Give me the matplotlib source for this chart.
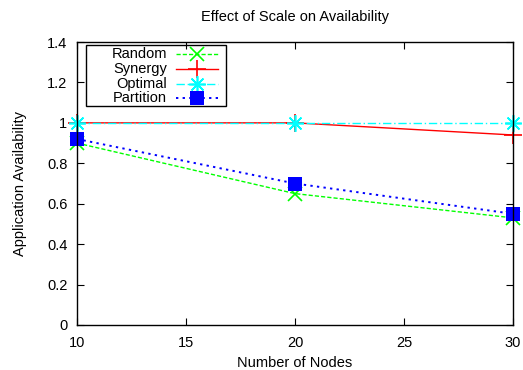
import matplotlib
matplotlib.use("Agg")
import matplotlib.pyplot as plt
from matplotlib.patches import Rectangle

plt.rcParams['font.family'] = ['Liberation Sans', 'DejaVu Sans']

nodes = [10, 20, 30]
random_av = [0.90, 0.65, 0.53]
synergy_av = [1.00, 1.00, 0.94]
optimal_av = [1.00, 1.00, 1.00]
partition_av = [0.92, 0.70, 0.55]

yticks = [0, 0.2, 0.4, 0.6, 0.8, 1.0, 1.2, 1.4]
ytick_labels = ['0', '0.2', '0.4', '0.6', '0.8', '1', '1.2', '1.4']
xticks = [10, 15, 20, 25, 30]

names = ['Random', 'Synergy', 'Optimal', 'Partition']
series = [random_av, synergy_av, optimal_av, partition_av]
styles = [
    dict(color='#00ff00', ls=(0, (3, 1.5)), lw=1, marker='x', ms=10, mew=1.2),
    dict(color='#ff0000', ls='-', lw=1, marker='+', ms=13, mew=1.2),
    dict(color='#00ffff', ls=(0, (6, 2, 1, 2)), lw=1, marker=(8, 2, 0), ms=12, mew=1.2),
    dict(color='#0000ff', ls=(0, (1.2, 2.2)), lw=1.4, marker='s', ms=10, mew=0),
]

fig = plt.figure(figsize=(5.23, 3.7), dpi=100)
ax = fig.add_axes([77/523, 45/370, 436/523, 283/370])

for vals, st in zip(series, styles):
    ax.plot(nodes, vals, clip_on=False, **st)

ax.set_xlim(10, 30)
ax.set_ylim(0, 1.4)
ax.set_xticks(xticks)
ax.set_yticks(yticks)
ax.set_yticklabels(ytick_labels)
ax.tick_params(direction='in', length=5, top=True, right=True, labelsize=10.5)
ax.tick_params(axis='y', pad=7)
ax.tick_params(axis='x', pad=8)
for s in ax.spines.values():
    s.set_linewidth(1)

ax.set_title('Effect of Scale on Availability', fontsize=10.5, pad=15)
ax.set_xlabel('Number of Nodes', fontsize=10.5, labelpad=4.5)
ax.set_ylabel('Application Availability', fontsize=10.5, labelpad=14)

# gnuplot-style key: text right-aligned, sample on the right
ax.add_patch(Rectangle((0.0206, 0.774), 0.3214, 0.215, transform=ax.transAxes,
                       fill=False, edgecolor='black', lw=1, clip_on=False, zorder=5))
row_y = [0.956, 0.905, 0.853, 0.802]
for name, st, yy in zip(names, styles, row_y):
    ax.text(0.206, yy, name, transform=ax.transAxes, ha='right', va='center',
            fontsize=10.5, zorder=6)
    line_st = {k: v for k, v in st.items() if k not in ('marker', 'ms', 'mew')}
    ax.plot([0.227, 0.323], [yy, yy], transform=ax.transAxes, clip_on=False,
            zorder=6, **line_st)
    ax.plot([0.275], [yy], transform=ax.transAxes, clip_on=False, zorder=6,
            color=st['color'], ls='none', marker=st['marker'], ms=st['ms'],
            mew=st['mew'])

fig.savefig('out.png', dpi=100)
